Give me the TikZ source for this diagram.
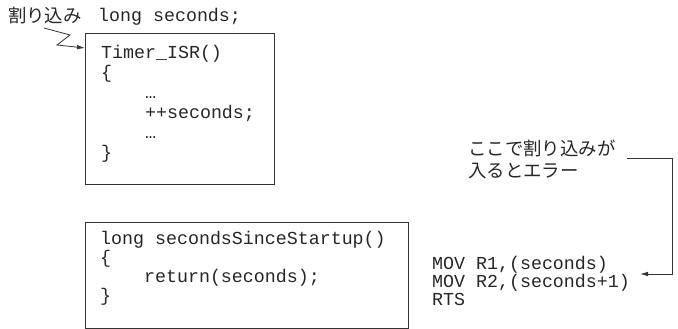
\documentclass[tikz,border=0pt]{standalone}
\usepackage{fontspec}
\setmonofont{Liberation Mono}
\newfontfamily\jpfont{Noto Sans CJK JP}
\usetikzlibrary{arrows.meta}

\begin{document}
\begin{tikzpicture}[x=1pt,y=-1pt]
  \useasboundingbox (0,0) rectangle (678,329);
  \tikzstyle{every node}=[inner sep=0pt, text=black!85]
  \tikzstyle{code}=[font=\ttfamily\fontsize{18.3}{19}\selectfont, align=left, anchor=north west]
  \tikzstyle{jp}=[font=\jpfont\fontsize{18.4}{22}\selectfont, align=left]
  \tikzstyle{codebox}=[draw=black!80, line width=1pt, anchor=north west]
  \tikzstyle{conn}=[draw=black!80, line width=0.8pt, -{Latex[length=8pt,width=4.5pt]}]

  \node[jp, anchor=west] (irq) at (8,16) {割り込み};
  \node[code, anchor=west] (decl) at (98,17) {long seconds;};

  \node[codebox, minimum width=189, minimum height=151] (isr) at (85,33) {};
  \node[code, font=\ttfamily\fontsize{18.3}{20}\selectfont] (isrbody) at ([shift={(16,12)}]isr.north west)
    {Timer\_ISR()\\\{\\\phantom{xxxx}…\\\phantom{xxxx}++seconds;\\\phantom{xxxx}…\\\}};

  \node[codebox, minimum width=323, minimum height=106] (since) at (85,222) {};
  \node[code] (sincebody) at ([shift={(15,9)}]since.north west)
    {long secondsSinceStartup()\\\{\\\phantom{xxxx}return(seconds);\\\}};

  \node[code, font=\ttfamily\fontsize{18.3}{18}\selectfont] (asm) at (432,256)
    {MOV R1,(seconds)\\MOV R2,(seconds+1)\\RTS};
  \node[jp, anchor=north west] (note) at (468,140) {ここで割り込みが\\入るとエラー};

  \coordinate (zz) at (44,28);
  \draw[conn] (zz) -- (70,35) -- (57,45) -- ([yshift=-15pt]isr.north west);
  \coordinate (hook) at (627,158);
  \coordinate (tip) at (640,274);
  \draw[conn] (hook) -| (672,274) -- (tip);
\end{tikzpicture}
\end{document}
